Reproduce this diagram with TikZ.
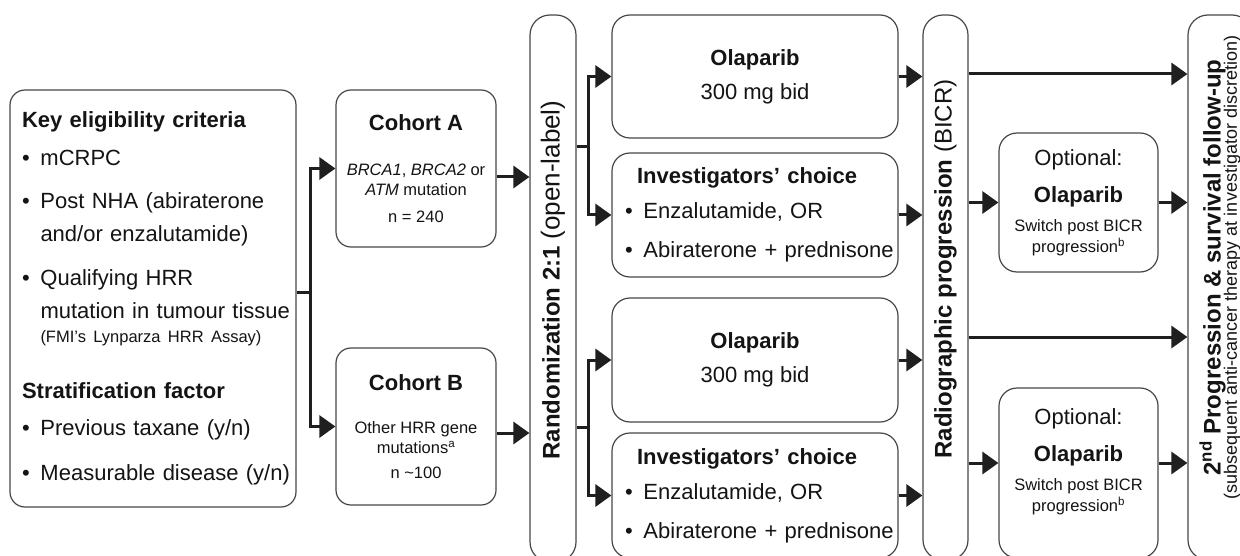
\documentclass[tikz,border=0pt]{standalone}
\usepackage{fontspec}
\setmainfont{Liberation Sans}
\usepackage{graphicx}
\usetikzlibrary{arrows.meta}

% bullet line with hanging indent
\newcommand{\itm}[1]{\par\noindent\hangindent=18.5pt\hangafter=1\makebox[18.5pt][l]{\textbullet}#1\par}

\tikzset{
	box/.style={draw=black!72, line width=1.2pt, rounded corners=15pt, fill=white, text=black!92},
	bar/.style={draw=black!72, line width=1.2pt, rounded corners=20pt, fill=white, inner sep=0pt, text=black!92},
	flow/.style={line width=3pt, draw=black!88, -{Triangle[length=16pt,width=22pt]}},
	link/.style={line width=3pt, draw=black!88},
	elbow/.style={to path={|- (\tikztotarget)}},
	big/.style={font=\fontsize{22}{22}\selectfont},
	small/.style={font=\fontsize{16.5}{20}\selectfont},
}

\begin{document}
\begin{tikzpicture}[x=1pt, y=-1pt]
	\useasboundingbox (0,0) rectangle (1240,556);
	\fill[white] (0,0) rectangle (1240,556);
	\clip (0,0) rectangle (1240,556);

	% eligibility
	\node[box, text width=278pt, inner xsep=4pt, inner ysep=0pt, minimum height=417pt, align=left,
		font=\fontsize{22}{33}\selectfont] (elig) at (153,298.5) {\leftskip=8pt
		\textbf{Key eligibility criteria}\par
		\vspace{5pt}\itm{mCRPC}
		\vspace{10pt}\itm{Post NHA (abiraterone\newline and/or enzalutamide)}
		\vspace{11pt}\itm{Qualifying HRR\newline mutation in tumour tissue}
		{\fontsize{16.5}{24}\selectfont\hspace*{18.5pt}(FMI’s Lynparza HRR Assay)\par}
		\vspace{23pt}\textbf{Stratification factor}\par
		\vspace{4pt}\itm{Previous taxane (y/n)}
		\vspace{12pt}\itm{Measurable disease (y/n)}};

	% cohorts
	\node[box, small, minimum width=160pt, minimum height=157pt, align=center] (cohA) at (416,168.5)
		{{\fontsize{22}{22}\selectfont\bfseries Cohort A}\\[25pt]\textit{BRCA1}, \textit{BRCA2} or\\\textit{ATM} mutation\\[7pt]n = 240};
	\node[box, small, minimum width=160pt, minimum height=157pt, align=center] (cohB) at (416,426.5)
		{{\fontsize{22}{22}\selectfont\bfseries Cohort B}\\[23pt]Other HRR gene\\mutations\textsuperscript{a}\\[5pt]n \textasciitilde100};

	% randomisation
	\node[bar, minimum width=46pt, minimum height=547pt] (rand) at (553,288.5)
		{\rotatebox{90}{\hspace*{17pt}\fontsize{24}{24}\selectfont\bfseries Randomization 2:1 {\fontsize{26}{26}\selectfont\mdseries (open-label)}}};

	% arms
	\node[box, big, minimum width=286pt, minimum height=123pt, align=center, rounded corners=18pt] (olaA) at (755,76.5)
		{\textbf{Olaparib}\\[12pt]300 mg bid};
	\node[box, text width=278pt, inner xsep=4pt, inner ysep=0pt, minimum height=124pt, align=left, rounded corners=18pt,
		font=\fontsize{22}{35}\selectfont] (icA) at (755,215) {\leftskip=9pt
		\hspace*{12pt}\textbf{Investigators’ choice}\par
		\itm{Enzalutamide, OR}
		\vspace{4pt}\itm{Abiraterone + prednisone}};
	\node[box, big, minimum width=286pt, minimum height=124pt, align=center, rounded corners=18pt] (olaB) at (755,360)
		{\textbf{Olaparib}\\[12pt]300 mg bid};
	\node[box, text width=278pt, inner xsep=4pt, inner ysep=0pt, minimum height=125pt, align=left, rounded corners=18pt,
		font=\fontsize{22}{35}\selectfont] (icB) at (755,495.5) {\leftskip=9pt
		\hspace*{12pt}\textbf{Investigators’ choice}\par
		\itm{Enzalutamide, OR}
		\vspace{4pt}\itm{Abiraterone + prednisone}};

	% progression
	\node[bar, minimum width=45pt, minimum height=545pt] (prog) at (945.5,287.5)
		{\rotatebox{90}{\hspace*{37pt}\fontsize{24}{24}\selectfont\bfseries Radiographic progression {\mdseries (BICR)}}};

	% switch
	\node[box, small, minimum width=159pt, minimum height=139pt, align=center, rounded corners=18pt] (optA) at (1078.5,202.5)
		{{\fontsize{22}{22}\selectfont Optional:}\\[16pt]{\fontsize{22}{22}\selectfont\bfseries Olaparib}\\[9pt]Switch post BICR\\[1pt]progression\textsuperscript{b}};
	\node[box, small, minimum width=159pt, minimum height=170pt, align=center, rounded corners=18pt] (optB) at (1078.5,473)
		{{\fontsize{22}{22}\selectfont Optional:}\\[16pt]{\fontsize{22}{22}\selectfont\bfseries Olaparib}\\[9pt]Switch post BICR\\[1pt]progression\textsuperscript{b}\\[6pt]\mbox{}};

	% follow-up
	\node[bar, minimum width=64pt, minimum height=545pt] (foll) at (1220,287.5)
		{\rotatebox{90}{\hspace*{40pt}\begin{tabular}{@{}c@{}}
			\fontsize{24}{24}\selectfont\bfseries 2\textsuperscript{nd} Progression \& survival follow-up\\[-2pt]
			\fontsize{18}{18}\selectfont (subsequent anti-cancer therapy at investigator discretion)
		\end{tabular}}};

	% split points and levels
	\coordinate (splitE) at (310,292);
	\coordinate (splitR1) at (588,147);
	\coordinate (splitR2) at (588,427);
	\coordinate (lvCA) at (0,177);
	\coordinate (lvCB) at (0,433);
	\coordinate (lvA) at (0,74);
	\coordinate (lvC) at (0,337);
	\coordinate (lvD) at (0,463);

	\draw[link] (elig.east |- splitE) -- (splitE);
	\draw[link] (rand.east |- splitR1) -- (splitR1);
	\draw[link] (rand.east |- splitR2) -- (splitR2);

	\path[every edge/.style={flow}]
		(splitE) edge[elbow] (cohA)
		(splitE) edge[elbow] (cohB)
		(cohA.east |- lvCA) edge (rand.west |- lvCA)
		(cohB.east |- lvCB) edge (rand.west |- lvCB)
		(splitR1) edge[elbow] (olaA)
		(splitR1) edge[elbow] (icA)
		(splitR2) edge[elbow] (olaB)
		(splitR2) edge[elbow] (icB)
		(olaA) edge (olaA -| prog.west)
		(icA) edge (icA -| prog.west)
		(olaB) edge (olaB -| prog.west)
		(icB) edge (icB -| prog.west)
		(prog.east |- lvA) edge (foll.west |- lvA)
		(prog.east |- optA) edge (optA)
		(optA) edge (optA -| foll.west)
		(prog.east |- lvC) edge (foll.west |- lvC)
		(prog.east |- lvD) edge (optB.west |- lvD)
		(optB.east |- lvD) edge (foll.west |- lvD)
		;
\end{tikzpicture}
\end{document}
